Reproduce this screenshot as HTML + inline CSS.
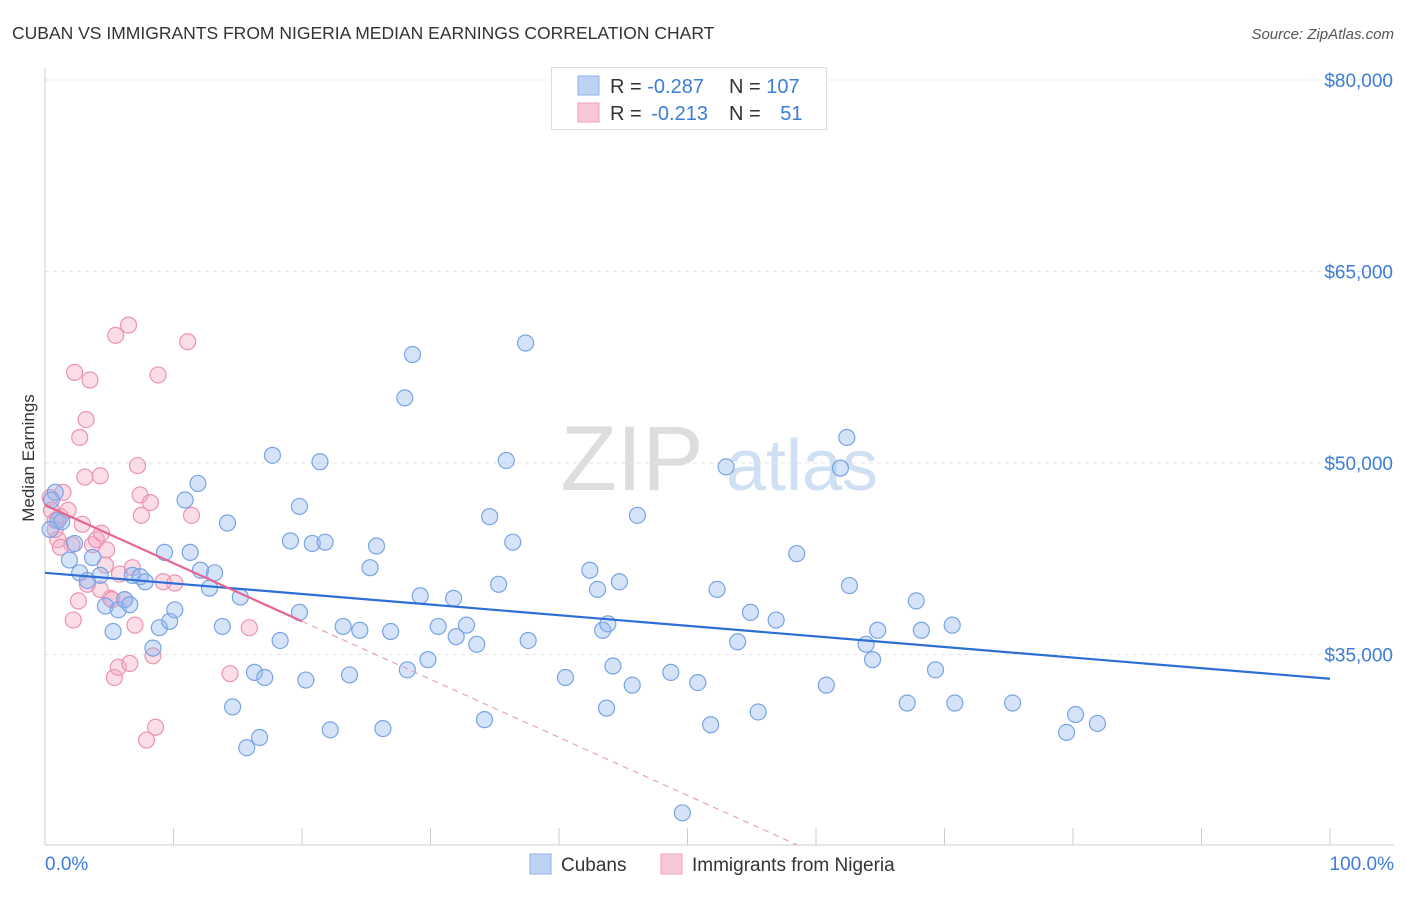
<!DOCTYPE html>
<html><head><meta charset="utf-8"><style>
body{margin:0;background:#fff;font-family:"Liberation Sans",sans-serif;}
svg text{font-family:"Liberation Sans",sans-serif;}
</style></head><body>
<svg id="chart" width="1406" height="892">
<text x="12" y="39" font-size="17.5" fill="#333">CUBAN VS IMMIGRANTS FROM NIGERIA MEDIAN EARNINGS CORRELATION CHART</text>
<text x="1394" y="39" font-size="15" fill="#555" font-style="italic" text-anchor="end">Source: ZipAtlas.com</text>
<text x="0" y="0" transform="translate(34,458) rotate(-90)" font-size="17" fill="#333" text-anchor="middle">Median Earnings</text>
<g><text x="632" y="490" font-size="92" fill="#ddd" font-family="Liberation Serif" text-anchor="middle">ZIP</text><text x="802" y="490" font-size="72" fill="#cfe0f4" text-anchor="middle">atlas</text></g>
<g id="grid"></g><g id="axes"></g><g id="pink"></g><g id="blue"></g><g id="lines"></g>
<g>
<rect x="551.5" y="67.5" width="275" height="62" fill="#fff" stroke="#ddd"/>
<rect x="578" y="76" width="21" height="19" fill="#bcd3f5" stroke="#8fb2e8"/>
<rect x="578" y="103" width="21" height="19" fill="#f9c8d6" stroke="#ef9fb8"/>
<text x="610" y="93" font-size="20" fill="#333">R = <tspan fill="#3b7dd8">-0.287</tspan></text>
<text x="729" y="93" font-size="20" fill="#333">N = <tspan fill="#3b7dd8">107</tspan></text>
<text x="610" y="120" font-size="20" fill="#333">R = <tspan fill="#3b7dd8" dx="4">-0.213</tspan></text>
<text x="729" y="120" font-size="20" fill="#333">N = <tspan fill="#3b7dd8" dx="14">51</tspan></text>
</g>
<g>
<rect x="530" y="854" width="21" height="20" fill="#bcd3f5" stroke="#8fb2e8"/>
<text x="561" y="871" font-size="19" fill="#333">Cubans</text>
<rect x="661" y="854" width="21" height="20" fill="#f9c8d6" stroke="#ef9fb8"/>
<text x="692" y="871" font-size="19" fill="#333">Immigrants from Nigeria</text>
</g>
</svg>
<script>
const yTicks=[35000,50000,65000,80000];
const yTickLabels=["$35,000","$50,000","$65,000","$80,000"];
const xTickLabels=["0.0%","100.0%"];
const blueX=[0.8,0.5,1.0,1.3,0.4,1.9,2.3,2.7,3.3,3.7,4.3,4.7,5.3,5.7,6.2,6.6,6.8,7.4,7.8,8.4,8.9,9.3,9.7,10.1,10.9,11.3,11.9,12.1,12.8,13.2,13.8,14.2,14.6,15.2,15.7,16.3,16.7,17.1,17.7,18.3,19.1,19.8,19.8,20.3,20.8,21.4,21.8,22.2,23.2,23.7,24.5,25.3,25.8,26.3,26.9,28.0,28.2,28.6,29.2,29.8,30.6,31.8,32.0,32.8,33.6,34.2,34.6,35.3,35.9,36.4,37.4,37.6,40.5,42.4,43.0,43.4,43.7,44.2,44.7,43.8,45.7,46.1,48.7,49.6,50.8,51.8,52.3,53.0,53.9,54.9,55.5,56.9,58.5,60.8,61.9,62.4,62.6,63.9,64.4,64.8,67.1,67.8,68.2,69.3,70.6,70.8,75.3,79.5,80.2,81.9];
const blueY=[47.7,47.1,45.5,45.4,44.8,42.4,43.7,41.4,40.8,42.6,41.2,38.8,36.8,38.5,39.3,38.9,41.2,41.1,40.7,35.5,37.1,43.0,37.6,38.5,47.1,43.0,48.4,41.6,40.2,41.4,37.2,45.3,30.9,39.5,27.7,33.6,28.5,33.2,50.6,36.1,43.9,38.3,46.6,33.0,43.7,50.1,43.8,29.1,37.2,33.4,36.9,41.8,43.5,29.2,36.8,55.1,33.8,58.5,39.6,34.6,37.2,39.4,36.4,37.3,35.8,29.9,45.8,40.5,50.2,43.8,59.4,36.1,33.2,41.6,40.1,36.9,30.8,34.1,40.7,37.4,32.6,45.9,33.6,22.6,32.8,29.5,40.1,49.7,36.0,38.3,30.5,37.7,42.9,32.6,49.6,52.0,40.4,35.8,34.6,36.9,31.2,39.2,36.9,33.8,37.3,31.2,31.2,28.9,30.3,29.6];
const pinkX=[0.4,0.5,0.8,1.0,1.2,1.4,1.8,2.1,2.2,2.3,2.6,2.7,2.9,3.2,3.1,3.3,3.5,3.7,4.0,4.3,4.4,4.7,4.8,5.1,5.2,5.4,5.7,5.8,6.2,6.5,6.6,6.8,7.0,7.2,7.4,7.5,7.9,8.2,8.4,8.6,8.8,9.2,10.1,11.1,11.4,14.4,15.9,5.5,1.2,0.8,4.3];
const pinkY=[47.3,46.3,45.5,44.0,45.8,47.7,46.3,43.6,37.7,57.1,39.2,52.0,45.2,53.4,48.9,40.5,56.5,43.6,44.0,49.0,44.5,42.0,43.2,39.4,39.3,33.2,34.0,41.3,39.3,60.8,34.3,41.8,37.3,49.8,47.5,45.9,28.3,46.9,34.9,29.3,56.9,40.7,40.6,59.5,45.9,33.5,37.1,60.0,43.4,44.8,40.1];
const blueTrend=[41.4,33.1];      // y (thousands) at x=0 and x=100
const pinkTrend=[46.7,37.6,20.1]; // y at x=0, x=20, x=58.5
const pinkTrendX=[0,20,58.5];
const X=v=>45+v*12.85;
const Y=v=>80+(80-v)*12.767;
const NS="http://www.w3.org/2000/svg";
function mk(tag,parent,attrs){const e=document.createElementNS(NS,tag);for(const k in attrs)e.setAttribute(k,attrs[k]);document.getElementById(parent).appendChild(e);return e;}
yTicks.forEach((t,i)=>{
 const l=mk('line','grid',{x1:45,x2:1394,y1:Y(t/1000),y2:Y(t/1000),stroke:'#e3e3e3','stroke-dasharray':'4,4'});
 
 
 const tx=mk('text','axes',{x:1393,y:Y(t/1000)+7,'font-size':19,fill:'#3b7dd8','text-anchor':'end'});
 tx.textContent=yTickLabels[i];
 
 
});
const ax=mk('line','axes',{x1:45,x2:45,y1:68,y2:845,stroke:'#ccc'});


const bx=mk('line','axes',{x1:45,x2:1394,y1:845,y2:845,stroke:'#ccc'});


for(let i=0;i<=10;i++){
 const t=mk('line','axes',{x1:X(i*10),x2:X(i*10),y1:828,y2:845,stroke:'#ccc'});
 
 
}
[[0,'start',45],[100,'end',1394]].forEach((d,i)=>{
 const tx=mk('text','axes',{x:d[2],y:870,'font-size':19,fill:'#3b7dd8','text-anchor':d[1]});
 tx.textContent=xTickLabels[i];
 
 
});
pinkX.forEach((x,i)=>{
 const c=mk('circle','pink',{cx:X(x),cy:Y(pinkY[i]),r:8,fill:'rgba(246,170,196,0.4)',stroke:'#ec93b0','stroke-width':1.2});
 
 
});
blueX.forEach((x,i)=>{
 const c=mk('circle','blue',{cx:X(x),cy:Y(blueY[i]),r:8,fill:'rgba(150,185,240,0.4)',stroke:'#79a4e4','stroke-width':1.2});
 
 
});
const bl=mk('line','lines',{x1:X(0),y1:Y(blueTrend[0]),x2:X(100),y2:Y(blueTrend[1]),stroke:'#2d6fd6','stroke-width':2.2});


const pl=mk('line','lines',{x1:X(pinkTrendX[0]),y1:Y(pinkTrend[0]),x2:X(pinkTrendX[1]),y2:Y(pinkTrend[1]),stroke:'#e5658f','stroke-width':2.2});


const pd=mk('line','lines',{x1:X(pinkTrendX[1]),y1:Y(pinkTrend[1]),x2:X(pinkTrendX[2]),y2:Y(pinkTrend[2]),stroke:'#e990ae','stroke-width':1,'stroke-dasharray':'6,5'});


</script>
</body></html>
